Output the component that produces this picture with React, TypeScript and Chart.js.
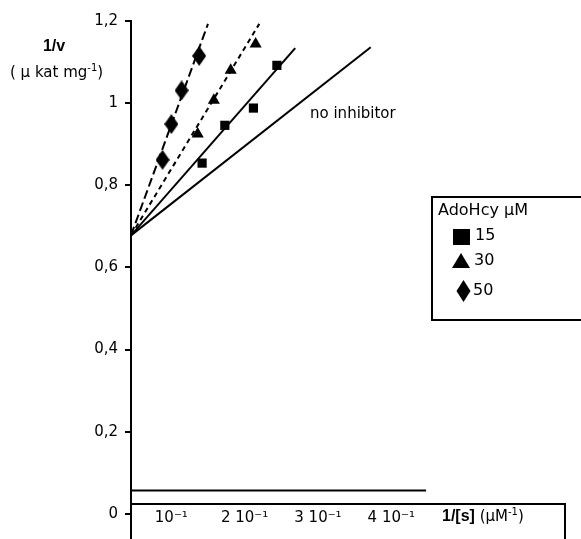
import React, { useEffect, useRef } from "react";
import { Chart, registerables } from "chart.js";

Chart.register(...registerables);

// ---- data ----
const yTickValues = [0, 0.2, 0.4, 0.6, 0.8, 1.0, 1.2];
const xTickValues = [0.1, 0.2, 0.3, 0.4];
const xTickLabels = ["10⁻¹", "2 10⁻¹", "3 10⁻¹", "4 10⁻¹"];

// 1/[S] and 1/v for each AdoHcy concentration
const invS15 = [0.142, 0.173, 0.212, 0.244];
const invV15 = [0.854, 0.946, 0.988, 1.092];
const invS30 = [0.136, 0.158, 0.181, 0.215];
const invV30 = [0.925, 1.007, 1.08, 1.144];
const invS50 = [0.088, 0.1, 0.114, 0.138];
const invV50 = [0.862, 0.949, 1.031, 1.115];

// fitted lines: common intercept, end points (no inhibitor, 15, 30, 50)
const fitStart = [0.045, 0.678];
const fitEndX = [0.372, 0.269, 0.22, 0.15];
const fitEndY = [1.136, 1.134, 1.193, 1.193];

// horizontal reference line and x-axis frame
const baselineX = [0.045, 0.4475];
const baselineY = 0.057;
const xAxisY = 0.025;

const legendTitle = "AdoHcy μM";
const legendLabels = ["15", "30", "50"];

const FONT = '"DejaVu Sans", sans-serif';
const BOLD = '"Liberation Sans", Arial, sans-serif';

function makeDiamond(w: number, h: number) {
  const c = document.createElement("canvas");
  c.width = w;
  c.height = h;
  const g = c.getContext("2d")!;
  g.fillStyle = "#000";
  g.beginPath();
  g.moveTo(w / 2, 0);
  g.lineTo(w, h / 2);
  g.lineTo(w / 2, h);
  g.lineTo(0, h / 2);
  g.closePath();
  g.fill();
  return c;
}

type Part = { t: string; f: string; dy?: number };
function drawRich(ctx: CanvasRenderingContext2D, parts: Part[], x: number, y: number) {
  let cx = x;
  ctx.textAlign = "left";
  ctx.textBaseline = "middle";
  for (const p of parts) {
    ctx.font = p.f;
    ctx.fillText(p.t, cx, y + (p.dy || 0));
    cx += ctx.measureText(p.t).width;
  }
}

const decorPlugin = {
  id: "decor",
  afterDraw(chart: any) {
    const ctx: CanvasRenderingContext2D = chart.ctx;
    const { right } = chart.chartArea;
    const ys = chart.scales.y;
    ctx.save();
    ctx.fillStyle = "#000";
    ctx.strokeStyle = "#000";

    // y-axis title
    ctx.font = `bold 16px ${BOLD}`;
    ctx.textAlign = "center";
    ctx.textBaseline = "middle";
    ctx.fillText("1/v", 54, 47);
    drawRich(
      ctx,
      [
        { t: "( μ kat mg", f: `15px ${FONT}` },
        { t: "-1", f: `10px ${FONT}`, dy: -5 },
        { t: ")", f: `15px ${FONT}` },
      ],
      10,
      73
    );

    // x-axis title
    drawRich(
      ctx,
      [
        { t: "1/[s]", f: `bold 16px ${BOLD}` },
        { t: " (μM", f: `15px ${FONT}` },
        { t: "-1", f: `10px ${FONT}`, dy: -5 },
        { t: ")", f: `15px ${FONT}` },
      ],
      442,
      517
    );

    // line annotation
    ctx.font = `15px ${FONT}`;
    ctx.textAlign = "left";
    ctx.textBaseline = "middle";
    ctx.fillText("no inhibitor", 310, 114);

    // right edge of x-axis frame
    ctx.lineWidth = 2;
    ctx.beginPath();
    ctx.moveTo(right, ys.getPixelForValue(xAxisY));
    ctx.lineTo(right, chart.height);
    ctx.stroke();

    // legend box
    ctx.lineWidth = 2;
    ctx.strokeRect(432, 197, 160, 123);
    ctx.font = `16px ${FONT}`;
    ctx.textAlign = "left";
    ctx.textBaseline = "middle";
    ctx.fillText(legendTitle, 438, 211);
    // square
    ctx.fillRect(453, 229, 17, 16);
    ctx.fillText(legendLabels[0], 475, 236);
    // triangle
    ctx.beginPath();
    ctx.moveTo(452, 268);
    ctx.lineTo(470, 268);
    ctx.lineTo(461, 253);
    ctx.closePath();
    ctx.fill();
    ctx.fillText(legendLabels[1], 474, 261);
    // diamond
    ctx.beginPath();
    ctx.moveTo(463.5, 280);
    ctx.lineTo(470.5, 291);
    ctx.lineTo(463.5, 302);
    ctx.lineTo(456.5, 291);
    ctx.closePath();
    ctx.fill();
    ctx.fillText(legendLabels[2], 473, 291);
    ctx.restore();
  },
};

function pts(xs: number[], ys: number[]) {
  return xs.map((x, i) => ({ x, y: ys[i] }));
}

export default function App() {
  const ref = useRef<HTMLCanvasElement>(null);
  useEffect(() => {
    const canvas = ref.current!;
    const diamond = makeDiamond(14, 20);
    const lineStyles = [
      { dash: [] as number[] },
      { dash: [] as number[] },
      { dash: [5, 4] },
      { dash: [9, 4] },
    ];
    const lineSets = fitEndX.map((ex, i) => ({
      data: [
        { x: fitStart[0], y: fitStart[1] },
        { x: ex, y: fitEndY[i] },
      ],
      showLine: true,
      borderColor: "#000",
      borderWidth: 2,
      borderDash: lineStyles[i].dash,
      pointRadius: 0,
    }));
    const chart = new Chart(canvas, {
      type: "scatter",
      data: {
        datasets: [
          ...lineSets,
          {
            data: baselineX.map((x) => ({ x, y: baselineY })),
            showLine: true,
            borderColor: "#000",
            borderWidth: 2,
            pointRadius: 0,
          },
          {
            data: pts(invS15, invV15),
            pointStyle: "rect",
            pointRadius: 6.5,
            backgroundColor: "#000",
            borderColor: "#000",
            borderWidth: 0,
          },
          {
            data: pts(invS30, invV30),
            pointStyle: "triangle",
            pointRadius: 7,
            backgroundColor: "#000",
            borderColor: "#000",
            borderWidth: 0,
          },
          {
            data: pts(invS50, invV50),
            pointStyle: diamond as any,
            pointRadius: 7,
            backgroundColor: "#000",
            borderColor: "#000",
          },
        ],
      },
      options: {
        responsive: false,
        animation: false,
        events: [],
        layout: { autoPadding: false, padding: { top: 21, right: 16, left: 0, bottom: 0 } },
        plugins: { legend: { display: false }, tooltip: { enabled: false } },
        scales: {
          x: {
            type: "linear",
            position: { y: xAxisY } as any,
            min: 0.045,
            max: 0.637,
            afterBuildTicks: (s: any) => {
              s.ticks = xTickValues.map((v) => ({ value: v }));
            },
            afterFit: (s: any) => {
              s.height = 0;
              s.paddingLeft = 0;
              s.paddingRight = 0;
              s.paddingTop = 0;
              s.paddingBottom = 0;
            },
            grid: { display: true, drawOnChartArea: false, drawTicks: false },
            border: { display: true, color: "#000", width: 2 },
            ticks: {
              color: "#000",
              font: { family: FONT, size: 15 },
              padding: 6,
              autoSkip: false,
              maxRotation: 0,
              callback: (_v: any, i: number) => xTickLabels[i],
            },
          },
          y: {
            type: "linear",
            min: -0.0612,
            max: 1.2,
            afterBuildTicks: (s: any) => {
              s.ticks = yTickValues.map((v) => ({ value: v }));
            },
            afterFit: (s: any) => {
              s.width = 131;
              s.paddingTop = 0;
              s.paddingBottom = 0;
              s.paddingLeft = 0;
              s.paddingRight = 0;
            },
            grid: {
              display: true,
              drawOnChartArea: false,
              drawTicks: true,
              tickLength: 6,
              color: "#000",
              lineWidth: 2,
            },
            border: { display: true, color: "#000", width: 2 },
            ticks: {
              color: "#000",
              font: { family: FONT, size: 15 },
              padding: 7,
              callback: (v: any) => String(v).replace(".", ","),
            },
          },
        },
      },
      plugins: [decorPlugin],
    });
    return () => chart.destroy();
  }, []);
  return (
    <div style={{ position: "fixed", left: 0, top: 0, width: 581, height: 539, background: "#fff" }}>
      <canvas ref={ref} width={581} height={539} style={{ display: "block" }} />
    </div>
  );
}
